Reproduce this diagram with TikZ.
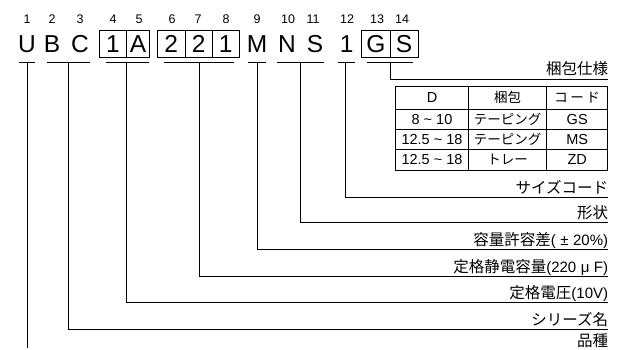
\documentclass[tikz,border=0pt]{standalone}
\usepackage{fontspec}
\setmainfont{Liberation Sans}
\newfontfamily\jp{Noto Sans CJK JP}
\tikzset{
  big/.style={inner sep=0pt, anchor=base, font=\fontsize{24.5}{28}\selectfont},
  num/.style={inner sep=0pt, anchor=base, font=\fontsize{12.5}{14}\selectfont},
  lab/.style={inner sep=0pt, anchor=base east, font=\fontsize{15}{17}\selectfont},
  cell/.style={inner sep=0pt, anchor=base, font=\fontsize{14.5}{16}\selectfont},
  conn/.style={line width=0.9pt},
  boxl/.style={line width=0.9pt},
}
\newcommand{\jl}[1]{{\jp\fontsize{15.5}{17}\selectfont #1}}
\newcommand{\jt}[1]{{\jp\fontsize{13.5}{15}\selectfont #1}}
\newcommand{\gp}{\hspace{4.5pt}}
\begin{document}
\begin{tikzpicture}[x=1pt,y=-1pt]
\useasboundingbox (0,0) rectangle (624,350);
% position numbers
\foreach \n/\x in {1/27,2/52,3/80,4/113,5/139,6/172,7/198,8/226,9/257,10/288,11/313,12/347,13/377,14/402}
  \node[num] (n\n) at (\x,24) {\n};
% code letters
\node[big] (cU) at (27,52.7) {U};
\node[big] (cB) at (52,52.7) {B};
\node[big] (cC) at (80,52.7) {C};
\node[big] (c4) at (113,52.7) {1};
\node[big] (c5) at (138,52.7) {A};
\node[big] (c6) at (171.2,52.7) {2};
\node[big] (c7) at (198.7,52.7) {2};
\node[big] (c8) at (225.8,52.7) {1};
\node[big] (cM) at (257,52.7) {M};
\node[big] (cN) at (287,52.7) {N};
\node[big] (cS) at (315,52.7) {S};
\node[big] (c12) at (346.7,52.7) {1};
\node[big] (cG) at (375.8,52.7) {G};
\node[big] (cS2) at (404,52.7) {S};
% boxes
\draw[boxl] (99.3,30.7) rectangle (149,57.3);
\draw[boxl] (126.7,30.7) -- (126.7,57.3);
\draw[boxl] (157.3,30.7) rectangle (239.3,57.3);
\draw[boxl] (185,30.7) -- (185,57.3);
\draw[boxl] (212.3,30.7) -- (212.3,57.3);
\draw[boxl] (361.7,30.7) rectangle (418.3,57.3);
\draw[boxl] (390,30.7) -- (390,57.3);
% underlines
\foreach \k/\a/\b/\m in {U/19/35/27.3, BC/46.7/90/68.3, V/106/149/126.7, C/164/234/199, M/248/266/257.3, NS/277/324/300.7, Z/338/355/345.7, P/367/413/390}{
  \coordinate (ua\k) at (\a,62.3);
  \coordinate (ub\k) at (\b,62.3);
  \coordinate (um\k) at (\m,62.3);
  \draw[conn] (ua\k) -- (ub\k);
}
% label line ends
\foreach \k/\y in {P/79, Z/197.3, NS/222.3, M/249.3, C/276, V/302.7, BC/329.3}{
  \coordinate (e\k) at (608.3,\y);
  \draw[conn] (um\k) |- (e\k);
}
\coordinate (eU) at (27.3,348);
\draw[conn] (umU) -- (eU);
% labels
\node[lab] (lP) at ([yshift=4pt]eP) {\jl{梱包仕様}};
\node[lab] (lZ) at ([yshift=4pt]eZ) {\jl{サイズコード}};
\node[lab] (lNS) at ([yshift=4pt]eNS) {\jl{形状}};
\node[lab] (lM) at ([yshift=4pt]eM) {\jl{容量許容差}(\gp±\gp20\%)};
\node[lab] (lC) at ([yshift=4pt]eC) {\jl{定格静電容量}(220\gp μ\gp F)};
\node[lab] (lV) at ([yshift=4pt]eV) {\jl{定格電圧}(10V)};
\node[lab] (lBC) at ([yshift=4pt]eBC) {\jl{シリーズ名}};
\node[lab] (lU) at (608.3,346) {\jl{品種}};
% table
\draw[boxl] (395.7,86.7) rectangle (607.7,170);
\foreach \y in {109.3,129.3,149.3} \draw[boxl] (395.7,\y) -- (607.7,\y);
\foreach \x in {468.8,546.7} \draw[boxl] (\x,86.7) -- (\x,170);
\node[cell] (t11) at (432,103) {D};
\node[cell] (t12) at (507.7,103) {\jt{梱包}};
\node[cell] (t13) at (577.2,103) {\jt{コ\hspace{2.5pt}ー\hspace{2.5pt}ド}};
\node[cell] (t21) at (432,124.3) {8 \textasciitilde{} 10};
\node[cell] (t22) at (507.7,124.3) {\jt{テーピング}};
\node[cell] (t23) at (577.2,124.3) {GS};
\node[cell] (t31) at (432,144.3) {12.5 \textasciitilde{} 18};
\node[cell] (t32) at (507.7,144.3) {\jt{テーピング}};
\node[cell] (t33) at (577.2,144.3) {MS};
\node[cell] (t41) at (432,164.7) {12.5 \textasciitilde{} 18};
\node[cell] (t42) at (507.7,164.7) {\jt{トレー}};
\node[cell] (t43) at (577.2,164.7) {ZD};
\end{tikzpicture}
\end{document}
